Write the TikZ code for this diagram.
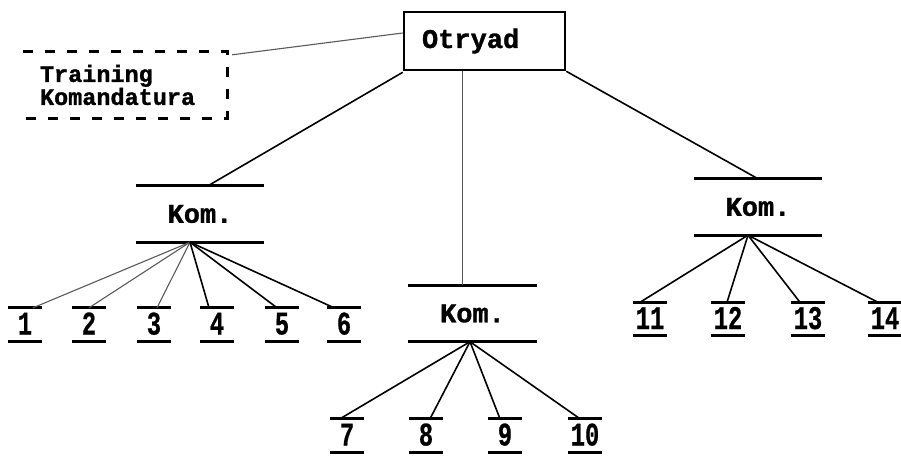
\documentclass[tikz,border=0pt]{standalone}
\usepackage{fontspec}
\newfontfamily\tw{Liberation Mono}[BoldFeatures={FakeBold=1.2}]
\newfontfamily\twn{Liberation Mono}[FakeStretch=0.72,BoldFeatures={FakeBold=0.6,FakeStretch=0.72}]
\begin{document}
\begin{tikzpicture}[x=1pt,y=-1pt,
  otbox/.style={draw,line width=2.6pt,inner xsep=18pt,text width=125pt,align=left,minimum height=58pt,font=\fontsize{27}{27}\selectfont\tw\bfseries},
  trbox/.style={inner xsep=17pt,text width=170pt,align=left,minimum height=66pt,font=\fontsize{23.5}{23}\selectfont\tw\bfseries},
  dashframe/.style={line width=3pt,dash pattern=on 10pt off 12pt},
  kom/.style={minimum width=128pt,minimum height=56pt,inner sep=0pt,font=\fontsize{27}{27}\selectfont\tw\bfseries},
  num/.style={minimum width=34pt,minimum height=33pt,inner sep=0pt,text height=20pt,text depth=0pt,font=\fontsize{33}{33}\selectfont\twn\bfseries},
  bar/.style={line width=3pt},
  link/.style={line width=1.6pt},
  faint/.style={line width=1.1pt,black!65},
]
\useasboundingbox (0,0) rectangle (901,455);

% top
\node[otbox] (ot) at (484.5,41) {Otryad};
\node[trbox] (tk) at (125,85) {Training\\Komandatura};
\draw[dashframe] (tk.north west) -- (tk.north east) -- (tk.south east) -- (tk.south west);

% komandaturas
\node[kom] (kl) at (200,214) {Kom.};
\node[kom] (km) at (472.5,313.5) {Kom.};
\node[kom] (kr) at (758,207) {Kom.};
\foreach \k in {kl,km,kr}{
  \draw[bar] (\k.north west) -- (\k.north east);
  \draw[bar] (\k.south west) -- (\k.south east);
}

% numbers
\node[num] (n1) at (25,324.5) {1};
\node[num] (n2) at (89,324.5) {2};
\node[num] (n3) at (154,324.5) {3};
\node[num] (n4) at (217,324.5) {4};
\node[num] (n5) at (282,324.5) {5};
\node[num] (n6) at (344,324.5) {6};
\node[num] (n7) at (347,435.5) {7};
\node[num] (n8) at (426,435.5) {8};
\node[num] (n9) at (505,435.5) {9};
\node[num] (n10) at (585,435.5) {10};
\node[num] (n11) at (650,319) {11};
\node[num] (n12) at (728,319) {12};
\node[num] (n13) at (808,319) {13};
\node[num] (n14) at (885,319) {14};
\foreach \n in {n1,n2,n3,n4,n5,n6,n7,n8,n9,n10,n11,n12,n13,n14}{
  \draw[bar] (\n.north west) -- (\n.north east);
  \draw[bar] (\n.south west) -- (\n.south east);
}

% connectors from Otryad
\draw[faint] ([shift={(5,3)}]tk.north east) -- ([yshift=8pt]ot.west);
\draw[link] ([yshift=-1pt]ot.south west) -- ([xshift=8pt]kl.north);
\draw[link] (ot.south east) -- (kr.north);
\draw[faint,line width=1.3pt] ([xshift=-22pt]ot.south) -- ([xshift=-22pt]ot.south |- km.north);

% fans
\coordinate (fl) at ([xshift=-10pt]kl.south);
\coordinate (fm) at ([xshift=-2.5pt]km.south);
\coordinate (fr) at ([xshift=-10pt]kr.south);
\foreach \n/\dx in {n1/8,n2/0,n3/3}{
  \draw[faint] (fl) -- ([xshift=\dx pt]\n.north);
}
\foreach \n/\dx in {n4/-8,n5/-5,n6/-10}{
  \draw[link] (fl) -- ([xshift=\dx pt]\n.north);
}
\foreach \n/\dx in {n7/-7,n8/4,n9/-5,n10/-5}{
  \draw[link] (fm) -- ([xshift=\dx pt]\n.north);
}
\foreach \n/\dx in {n11/-10,n12/-1,n13/-8,n14/-7}{
  \draw[link] (fr) -- ([xshift=\dx pt]\n.north);
}
\end{tikzpicture}
\end{document}
